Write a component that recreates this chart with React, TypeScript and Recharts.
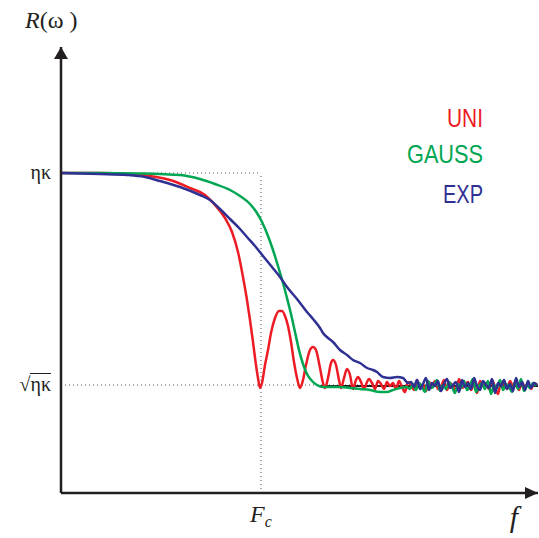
import React from 'react';
import { LineChart, Line, XAxis, YAxis, ReferenceLine, ReferenceDot } from 'recharts';

// Frequency axis: Fc = 200 units; response axis: ηκ = 320, √ηκ = 108 (schematic units)
const FC = 200;
const F_MAX = 477;
const R_MAX = 446;
const ETA_KAPPA = 320;
const SQRT_ETA_KAPPA = 108;

const yTickValues = [SQRT_ETA_KAPPA, ETA_KAPPA];
const xTickValues = [FC];

const uniPts: [number, number][] = [
  [0, 320], [39, 320], [69, 319], [89, 317], [109, 313], [129, 305], [144, 298], [154, 288], [164, 275],
  [171, 261], [177, 241], [182, 216], [186, 193], [189, 173], [192, 151], [195, 128], [197, 115], [199, 105],
  [201, 110], [204, 128], [207, 143], [210, 160], [214, 175], [218, 182], [221, 182], [224, 177], [227, 167],
  [230, 151], [233, 131], [236, 115], [239, 105], [242, 113], [245, 128], [249, 143], [252, 146], [255, 143],
  [259, 125], [262, 110], [264, 105], [267, 115], [270, 130], [272, 133], [275, 128], [278, 113], [280, 105],
  [283, 115], [286, 124], [289, 118], [292, 104], [295, 113], [297, 116], [300, 111], [303, 104], [306, 111],
  [308, 114], [311, 110], [314, 104], [317, 112], [320, 109], [323, 104], [326, 111], [329, 107],
  [332, 110], [335, 104], [338, 112], [341, 106], [344, 101], [347, 111], [350, 108], [353, 103], [356, 113],
  [359, 105], [362, 109], [365, 102], [368, 111], [371, 107], [374, 112], [377, 104], [380, 106], [383, 113],
  [386, 103], [389, 110], [392, 107], [395, 102], [398, 114], [401, 105], [404, 108], [407, 111], [410, 103],
  [413, 109], [416, 100], [419, 112], [422, 107], [425, 110], [428, 104], [431, 113], [434, 106], [437, 99],
  [440, 111], [443, 108], [446, 104], [449, 112], [452, 107], [455, 110], [458, 103], [461, 111], [464, 105],
  [467, 109], [470, 104], [473, 110], [476, 108],
];

const gaussPts: [number, number][] = [
  [0, 320], [39, 320], [79, 319.5], [99, 319], [119, 318], [139, 314], [154, 309], [169, 303], [179, 297],
  [189, 289], [196, 280], [201, 271], [207, 257], [212, 243], [217, 227], [222, 210], [226, 195], [230, 179],
  [234, 161], [238, 143], [242, 129], [246, 119], [251, 112], [256, 108], [262, 106], [269, 106], [279, 106],
  [289, 105], [299, 104], [309, 103], [319, 101], [326, 101], [332, 103], [339, 105], [346, 106],
  [349, 104], [352, 109], [355, 103], [358, 110], [361, 106], [364, 101], [367, 112], [370, 105], [373, 107],
  [376, 113], [379, 102], [382, 108], [385, 104], [388, 111], [391, 106], [394, 100], [397, 109], [400, 105],
  [403, 112], [406, 103], [409, 108], [412, 114], [415, 101], [418, 107], [421, 110], [424, 104], [427, 112],
  [430, 99], [433, 108], [436, 105], [439, 113], [442, 103], [445, 109], [448, 106], [451, 101], [454, 111],
  [457, 104], [460, 114], [463, 102], [466, 108], [469, 105], [472, 110], [475, 107],
];

const expPts: [number, number][] = [
  [0, 320], [39, 319], [66, 318], [84, 316], [99, 312], [119, 306], [139, 298], [149, 293], [159, 284],
  [169, 274], [179, 264], [186, 256], [194, 247], [202, 237], [211, 226], [219, 216], [226, 206], [236, 194],
  [246, 181], [252, 174], [259, 165], [262, 160], [267, 155], [272, 151], [279, 143], [286, 138], [292, 133],
  [299, 130], [306, 125], [312, 123], [316, 121], [322, 116], [329, 115], [336, 116], [342, 115], [347, 110],
  [350, 111], [353, 106], [356, 113], [359, 104], [362, 109], [365, 115], [368, 103], [371, 110], [374, 107],
  [377, 112], [380, 102], [383, 109], [386, 114], [389, 105], [392, 108], [395, 111], [398, 101], [401, 113],
  [404, 106], [407, 110], [410, 104], [413, 115], [416, 107], [419, 103], [422, 112], [425, 108], [428, 105],
  [431, 114], [434, 100], [437, 110], [440, 107], [443, 113], [446, 104], [449, 109], [452, 102], [455, 115],
  [458, 106], [461, 111], [464, 103], [467, 112], [470, 105], [473, 110], [476, 108],
];

const levelPts: [number, number][] = [[259, 107], [477, 107]];

const seriesNames = ['UNI', 'GAUSS', 'EXP'];
const seriesColors = ['#ED1C24', '#00A651', '#2E3192'];

const toRows = (pts: [number, number][]) => pts.map(([f, r]) => ({ f, r }));

const INK = '#231F20';
const SERIF = '"Liberation Serif", "Times New Roman", serif';
const SANS = '"Liberation Sans", Arial, sans-serif';

const YTick = (props: any) => {
  const { x, y, payload } = props;
  if (payload.value === ETA_KAPPA) {
    return (
      <text x={x - 10} y={y} dy={6} textAnchor="end" fontFamily={SERIF} fontSize={20} fill={INK}>
        ηκ
      </text>
    );
  }
  return (
    <g>
      <text x={x - 10} y={y} dy={6} textAnchor="end" fontFamily={SERIF} fontSize={20} fill={INK}>
        √ηκ
      </text>
      <line x1={x - 31} x2={x - 10} y1={y - 11.5} y2={y - 11.5} stroke={INK} strokeWidth={1} />
    </g>
  );
};

const XTick = (props: any) => {
  const { x, y } = props;
  return (
    <text x={x} y={y} dy={29} textAnchor="middle" fontFamily={SERIF} fontStyle="italic" fill={INK}>
      <tspan fontSize={24}>F</tspan>
      <tspan fontSize={16} dy={5}>c</tspan>
    </text>
  );
};

const UpArrow = (props: any) => {
  const { cx, cy } = props;
  return <path d={`M${cx},${cy} L${cx - 7},${cy + 12} L${cx + 7},${cy + 12} Z`} fill={INK} />;
};

const RightArrow = (props: any) => {
  const { cx, cy } = props;
  return <path d={`M${cx},${cy} L${cx - 13},${cy - 6} L${cx - 13},${cy + 6} Z`} fill={INK} />;
};

const dotted = { stroke: '#555', strokeWidth: 1, strokeDasharray: '1 3' };

export default function App() {
  const legendBaselines = [127, 163, 203];
  const legendWidths = [36, 76, 40];
  return (
    <div style={{ position: 'absolute', left: 0, top: 0, width: 539, height: 538, background: '#fff' }}>
      <LineChart width={539} height={538} margin={{ top: 47, right: 1, bottom: 15, left: 16 }}>
        <XAxis
          type="number"
          dataKey="f"
          domain={[0, F_MAX]}
          ticks={xTickValues}
          tick={<XTick />}
          tickLine={false}
          tickSize={0}
          tickMargin={0}
          height={30}
          axisLine={{ stroke: INK, strokeWidth: 2.5 }}
          allowDataOverflow
        />
        <YAxis
          type="number"
          dataKey="r"
          domain={[0, R_MAX]}
          ticks={yTickValues}
          tick={<YTick />}
          tickLine={false}
          tickSize={0}
          tickMargin={0}
          width={45}
          axisLine={{ stroke: INK, strokeWidth: 2.5 }}
          allowDataOverflow
        />
        <ReferenceLine segment={[{ x: 0, y: ETA_KAPPA }, { x: FC, y: ETA_KAPPA }]} {...dotted} />
        <ReferenceLine segment={[{ x: FC, y: 0 }, { x: FC, y: ETA_KAPPA }]} {...dotted} />
        <ReferenceLine segment={[{ x: 0, y: SQRT_ETA_KAPPA }, { x: F_MAX, y: SQRT_ETA_KAPPA }]} {...dotted} />
        <Line data={toRows(levelPts)} dataKey="r" stroke={INK} strokeWidth={2} dot={false} isAnimationActive={false} />
        <Line data={toRows(uniPts)} dataKey="r" name="UNI" type="monotone" stroke={seriesColors[0]} strokeWidth={2.5} dot={false} isAnimationActive={false} />
        <Line data={toRows(gaussPts)} dataKey="r" name="GAUSS" type="monotone" stroke={seriesColors[1]} strokeWidth={2.5} dot={false} isAnimationActive={false} />
        <Line data={toRows(expPts)} dataKey="r" name="EXP" type="monotone" stroke={seriesColors[2]} strokeWidth={2.5} dot={false} isAnimationActive={false} />
        <ReferenceDot x={0} y={R_MAX} r={0} shape={<UpArrow />} ifOverflow="visible" />
        <ReferenceDot x={F_MAX} y={0} r={0} shape={<RightArrow />} ifOverflow="visible" />
      </LineChart>
      <svg width={539} height={538} style={{ position: 'absolute', left: 0, top: 0, pointerEvents: 'none' }}>
        <text x={25} y={28} fontFamily={SERIF} fontSize={24} fill={INK}>
          <tspan fontStyle="italic">R</tspan>(ω )
        </text>
        <text x={514} y={527} textAnchor="middle" fontFamily={SERIF} fontStyle="italic" fontSize={30} fill={INK}>
          f
        </text>
        {seriesNames.map((name, i) => (
          <text
            key={name}
            x={483}
            y={legendBaselines[i]}
            textAnchor="end"
            fontFamily={SANS}
            fontSize={25}
            fill={seriesColors[i]}
            textLength={legendWidths[i]}
            lengthAdjust="spacingAndGlyphs"
          >
            {name}
          </text>
        ))}
      </svg>
    </div>
  );
}
